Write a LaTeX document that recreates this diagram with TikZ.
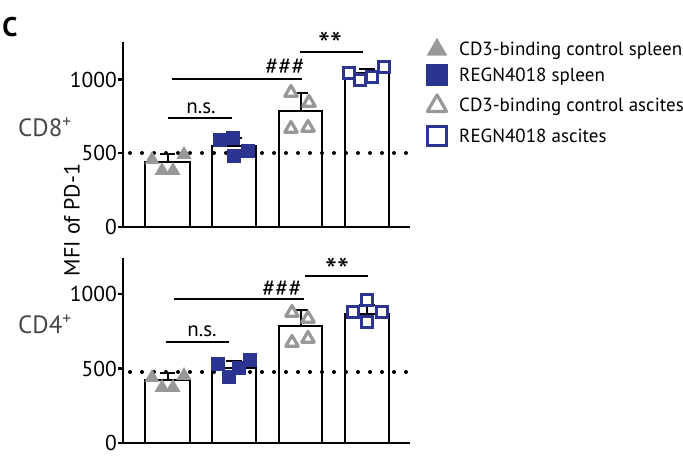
\documentclass[tikz,border=0pt]{standalone}
\usepackage{fontspec}
\setmainfont{PT Sans}
\usetikzlibrary{positioning}
\definecolor{ctrlgray}{RGB}{152,152,152}
\definecolor{regnblue}{RGB}{44,52,145}
\definecolor{cdgray}{RGB}{70,70,70}

\begin{document}
\begin{tikzpicture}[x=1pt,y=-1pt,
		axis/.style={line width=2.5pt},
		barbox/.style={draw,fill=white,line width=2.3pt},
		errbar/.style={line width=2pt},
		sigline/.style={line width=1.5pt},
		siglab/.style={anchor=base,inner sep=0pt,font=\fontsize{21}{24}\selectfont},
		hashlab/.style={anchor=base,inner sep=0pt,font=\fontsize{24}{28}\selectfont},
		starlab/.style={anchor=north,inner sep=0pt,font=\fontsize{34}{38}\selectfont},
		ticklab/.style={anchor=east,inner sep=1pt,font=\fontsize{21.5}{25}\selectfont},
		cutoff/.style={line width=4pt,line cap=round,dash pattern=on 0pt off 12pt},
		celllab/.style={text=cdgray,inner sep=0pt,font=\fontsize{25}{28}\selectfont},
		legtext/.style={anchor=base west,inner sep=0pt,font=\fontsize{19}{22}\selectfont},
		ctrltri/.pic={\fill[ctrlgray] (0,-8) -- (7.4,4.8) -- (-7.4,4.8) -- cycle;},
		regnsq/.pic={\fill[regnblue] (-6.8,-6.8) rectangle (6.8,6.8);},
		ctrlopen/.pic={\draw[ctrlgray,fill=white,line width=3.2pt,line join=round] (0,-6.5) -- (6.2,4.2) -- (-6.2,4.2) -- cycle;},
		regnopen/.pic={\draw[regnblue,fill=white,line width=3pt] (-5.6,-5.6) rectangle (5.6,5.6);}]
		
		\useasboundingbox (0,0) rectangle (683,470);
		
		\node[inner sep=0pt,font=\fontsize{27}{30}\selectfont\bfseries] (panelC) at (10,27) {C};
		\node[rotate=90,inner sep=0pt,font=\fontsize{22}{26}\selectfont] (ylab) at (72,220) {MFI of PD-1};
		
		% CD8 panel
		\node[celllab,anchor=west] (cd8) at (18,127) {CD8\textsuperscript{+}};
		\draw[barbox] (145,227) rectangle (190,162);
		\draw[barbox] (212,227) rectangle (256,146);
		\draw[barbox] (279,227) rectangle (322,111);
		\draw[barbox] (345,227) rectangle (389,73);
		\draw[errbar] (167.5,162) -- (167.5,154) (160,154) -- (175,154);
		\draw[errbar] (234,146) -- (234,138) (226,138) -- (242,138);
		\draw[errbar] (300.5,111) -- (300.5,93) (293,93) -- (308,93);
		\draw[errbar] (367,73) -- (367,69) (359,69) -- (375,69);
		\draw[axis] (123,42) -- (123,227) -- (410,227);
		\foreach \v/\y in {0/227,500/153,1000/79.5} {
			\draw[axis] (118,\y) -- (123,\y);
			\node[ticklab] (tickA\v) at (118,\y) {\v};
		}
		\draw[cutoff] (130,153) -- (410,153);
		\foreach \mx/\my in {152/159,162/170,173/170,184/154} \pic at (\mx,\my) {ctrltri};
		\foreach \mx/\my in {220/140,233/138,234/156,248/151} \pic at (\mx,\my) {regnsq};
		\foreach \mx/\my in {291/92,309/102,291/128,308/127} \pic at (\mx,\my) {ctrlopen};
		\foreach \mx/\my in {349/73,360/80,372/77,384/67} \pic at (\mx,\my) {regnopen};
		\draw[sigline] (168,118) -- (232,118);
		\node[siglab] (nsA) at (201,114) {n.s.};
		\draw[sigline] (172,79) -- (302,79);
		\node[hashlab] (hashA) at (285,75) {\#\#\#};
		\draw[sigline] (300,52) -- (363,52);
		\node[starlab] (starA) at (330,32) {**};
		
		% CD4 panel
		\node[celllab,anchor=west] (cd4) at (18,324) {CD4\textsuperscript{+}};
		\draw[barbox] (145,443) rectangle (190,380);
		\draw[barbox] (212,443) rectangle (256,368);
		\draw[barbox] (279,443) rectangle (322,326);
		\draw[barbox] (345,443) rectangle (389,314);
		\draw[errbar] (167.5,380) -- (167.5,373) (160,373) -- (175,373);
		\draw[errbar] (234,368) -- (234,361) (226,361) -- (242,361);
		\draw[errbar] (300.5,326) -- (300.5,310) (293,310) -- (308,310);
		\draw[errbar] (367,314) -- (367,305) (359,305) -- (375,305);
		\draw[axis] (123,258) -- (123,443) -- (410,443);
		\foreach \v/\y in {0/443,500/368.5,1000/294} {
			\draw[axis] (118,\y) -- (123,\y);
			\node[ticklab] (tickB\v) at (118,\y) {\v};
		}
		\draw[cutoff] (130,372) -- (410,372);
		\foreach \mx/\my in {152/377,162/387,173/387,184/375} \pic at (\mx,\my) {ctrltri};
		\foreach \mx/\my in {218/364,229/377,239/368,250/360} \pic at (\mx,\my) {regnsq};
		\foreach \mx/\my in {292/312,308/318,292/342,308/338} \pic at (\mx,\my) {ctrlopen};
		\foreach \mx/\my in {367/300,353/312,382/312,367/322} \pic at (\mx,\my) {regnopen};
		\draw[sigline] (166,342) -- (229,342);
		\node[siglab] (nsB) at (202,337) {n.s.};
		\draw[sigline] (174,299) -- (304,299);
		\node[hashlab] (hashB) at (282,297) {\#\#\#};
		\draw[sigline] (305,276) -- (368,276);
		\node[starlab] (starB) at (337,258) {**};
		
		% legend
		\pic[scale=1.4] at (437,49) {ctrltri};
		\pic[scale=1.55] at (437,75) {regnsq};
		\pic[scale=1.55] at (437,105) {ctrlopen};
		\pic[scale=1.65] at (437,136) {regnopen};
		\node[legtext] (legA) at (459,56) {CD3-binding control spleen};
		\node[legtext] (legB) at (459,82) {REGN4018 spleen};
		\node[legtext] (legC) at (459,112) {CD3-binding control ascites};
		\node[legtext] (legD) at (459,143) {REGN4018 ascites};
\end{tikzpicture}
\end{document}
